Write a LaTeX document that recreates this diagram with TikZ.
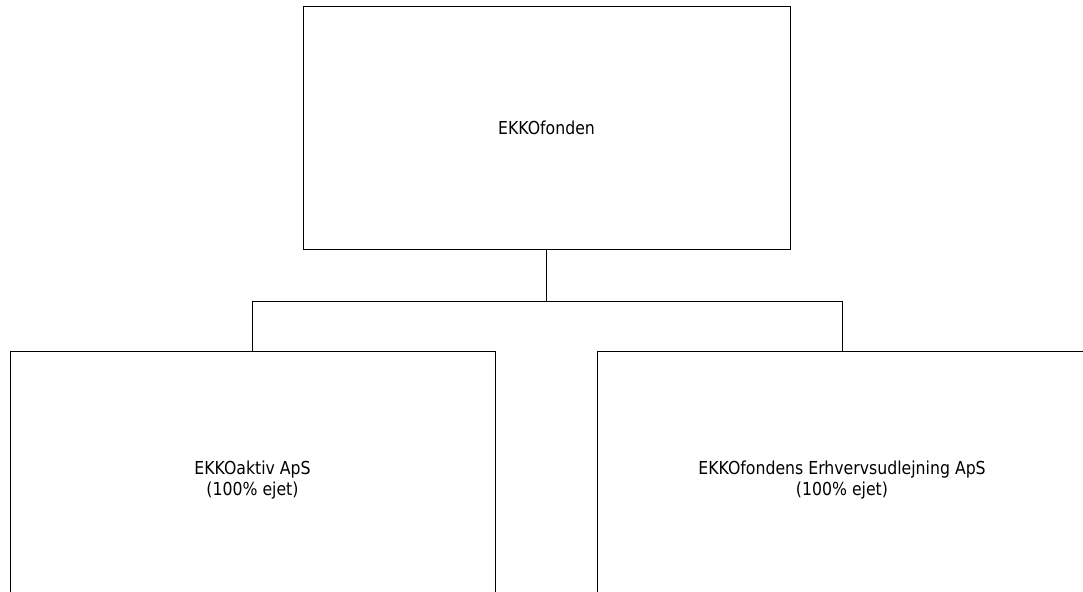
\documentclass[tikz,border=0pt]{standalone}
\usepackage{fontspec}
\setmainfont[FakeStretch=0.88]{DejaVu Sans}
\begin{document}
\begin{tikzpicture}[x=0.75pt,y=-0.75pt,
  box/.style={draw=black,line width=0.75pt,fill=white,inner sep=0pt,align=center,
    font=\fontsize{13.4}{15.5}\selectfont},
  conn/.style={draw=black,line width=0.75pt}]
\useasboundingbox (0,0) rectangle (1083,592);
\clip (0,0) rectangle (1083,592);
\node[box,minimum width=487*0.75pt,minimum height=242*0.75pt] (top) at (546.5,128) {EKKOfonden};
\node[box,minimum width=485*0.75pt,minimum height=258*0.75pt] (left) at (252.5,480) {EKKOaktiv ApS\\(100\% ejet)};
\node[box,minimum width=490*0.75pt,minimum height=258*0.75pt] (right) at (842,480) {EKKOfondens Erhvervsudlejning ApS\\(100\% ejet)};
\coordinate (j) at (546.5,301);
\draw[conn] (top.south) -- (j);
\draw[conn] (left.north) -- (left.north |- j) -- (right.north |- j) -- (right.north);
\end{tikzpicture}
\end{document}
